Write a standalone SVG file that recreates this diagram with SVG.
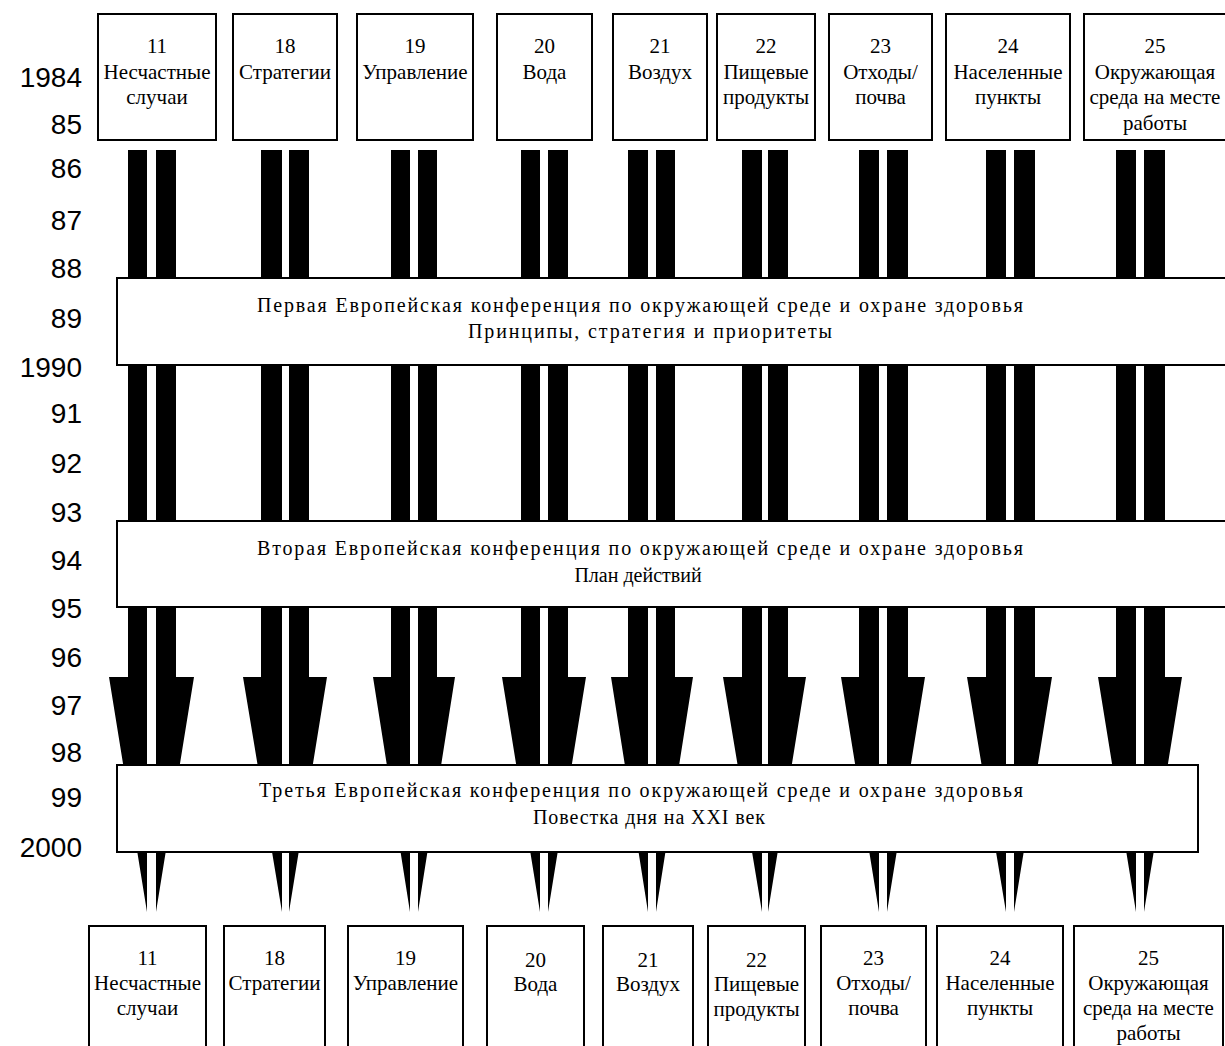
<svg xmlns="http://www.w3.org/2000/svg" width="1225" height="1046" viewBox="0 0 1225 1046">
<style>
.box{fill:#fff;stroke:#000;stroke-width:2}
.lbl{font-family:"Liberation Serif","Times New Roman",serif;font-size:21px;fill:#000;text-anchor:middle}
.conf{font-family:"Liberation Serif","Times New Roman",serif;font-size:20px;fill:#000}
.yr{font-family:"Liberation Sans",Arial,sans-serif;font-size:28px;fill:#000;text-anchor:end}
.arr{fill:#000}
</style>
<rect width="1225" height="1046" fill="#fff"/>
<g id="years">
<text class="yr" x="82" y="87">1984</text>
<text class="yr" x="82" y="134">85</text>
<text class="yr" x="82" y="178">86</text>
<text class="yr" x="82" y="230">87</text>
<text class="yr" x="82" y="278">88</text>
<text class="yr" x="82" y="328">89</text>
<text class="yr" x="82" y="377">1990</text>
<text class="yr" x="82" y="423">91</text>
<text class="yr" x="82" y="473">92</text>
<text class="yr" x="82" y="522">93</text>
<text class="yr" x="82" y="570">94</text>
<text class="yr" x="82" y="618">95</text>
<text class="yr" x="82" y="667">96</text>
<text class="yr" x="82" y="715">97</text>
<text class="yr" x="82" y="762">98</text>
<text class="yr" x="82" y="807">99</text>
<text class="yr" x="82" y="857">2000</text>
</g>
<g id="connectors">
<polygon class="arr" points="128,150 147,150 147,912 109,677 128,677"/>
<polygon class="arr" points="156,150 176,150 176,677 194,677 156,912"/>
<polygon class="arr" points="261,150 282,150 282,912 243,677 261,677"/>
<polygon class="arr" points="289,150 309,150 309,677 327,677 289,912"/>
<polygon class="arr" points="391,150 410,150 410,912 373,677 391,677"/>
<polygon class="arr" points="418,150 437,150 437,677 455,677 418,912"/>
<polygon class="arr" points="521,150 540,150 540,912 502,677 521,677"/>
<polygon class="arr" points="548,150 568,150 568,677 586,677 548,912"/>
<polygon class="arr" points="628,150 648,150 648,912 611,677 628,677"/>
<polygon class="arr" points="656,150 675,150 675,677 693,677 656,912"/>
<polygon class="arr" points="742,150 762,150 762,912 723,677 742,677"/>
<polygon class="arr" points="768,150 788,150 788,677 806,677 768,912"/>
<polygon class="arr" points="859,150 879,150 879,912 841,677 859,677"/>
<polygon class="arr" points="887,150 908,150 908,677 925,677 887,912"/>
<polygon class="arr" points="986,150 1006,150 1006,912 967,677 986,677"/>
<polygon class="arr" points="1014,150 1035,150 1035,677 1052,677 1014,912"/>
<polygon class="arr" points="1116,150 1136,150 1136,912 1098,677 1116,677"/>
<polygon class="arr" points="1144,150 1165,150 1165,677 1182,677 1144,912"/>
</g>
<g id="conf1">
<rect class="box" x="117" y="278" width="1110" height="87"/>
<text class="conf" x="257" y="312" textLength="766" lengthAdjust="spacing">Первая Европейская конференция по окружающей среде и охране здоровья</text>
<text class="conf" x="468" y="338" textLength="364" lengthAdjust="spacing">Принципы, стратегия и приоритеты</text>
</g>
<g id="conf2">
<rect class="box" x="117" y="521" width="1110" height="86"/>
<text class="conf" x="257" y="555" textLength="766" lengthAdjust="spacing">Вторая Европейская конференция по окружающей среде и охране здоровья</text>
<text class="conf" x="638" y="582" text-anchor="middle">План действий</text>
</g>
<g id="conf3">
<rect class="box" x="117" y="765" width="1081" height="87"/>
<text class="conf" x="259" y="797" textLength="764" lengthAdjust="spacing">Третья Европейская конференция по окружающей среде и охране здоровья</text>
<text class="conf" x="533" y="824" textLength="232" lengthAdjust="spacing">Повестка дня на XXI век</text>
</g>
<g id="top11"><rect class="box" x="98" y="14" width="118" height="126"/><text class="lbl" x="157" y="53">11</text><text class="lbl" x="157" y="79">Несчастные</text><text class="lbl" x="157" y="104">случаи</text></g>
<g id="top18"><rect class="box" x="233" y="14" width="104" height="126"/><text class="lbl" x="285" y="53">18</text><text class="lbl" x="285" y="79">Стратегии</text></g>
<g id="top19"><rect class="box" x="357" y="14" width="116" height="126"/><text class="lbl" x="415" y="53">19</text><text class="lbl" x="415" y="79">Управление</text></g>
<g id="top20"><rect class="box" x="497" y="14" width="95" height="126"/><text class="lbl" x="544.5" y="53">20</text><text class="lbl" x="544.5" y="79">Вода</text></g>
<g id="top21"><rect class="box" x="613" y="14" width="94" height="126"/><text class="lbl" x="660" y="53">21</text><text class="lbl" x="660" y="79">Воздух</text></g>
<g id="top22"><rect class="box" x="717" y="14" width="98" height="126"/><text class="lbl" x="766" y="53">22</text><text class="lbl" x="766" y="79">Пищевые</text><text class="lbl" x="766" y="104">продукты</text></g>
<g id="top23"><rect class="box" x="829" y="14" width="103" height="126"/><text class="lbl" x="880.5" y="53">23</text><text class="lbl" x="880.5" y="79">Отходы/</text><text class="lbl" x="880.5" y="104">почва</text></g>
<g id="top24"><rect class="box" x="946" y="14" width="124" height="126"/><text class="lbl" x="1008" y="53">24</text><text class="lbl" x="1008" y="79">Населенные</text><text class="lbl" x="1008" y="104">пункты</text></g>
<g id="top25"><rect class="box" x="1084" y="14" width="145" height="126"/><text class="lbl" x="1155" y="53">25</text><text class="lbl" x="1155" y="79">Окружающая</text><text class="lbl" x="1155" y="104">среда на месте</text><text class="lbl" x="1155" y="130">работы</text></g>
<g id="bot11"><rect class="box" x="89" y="926" width="117" height="130"/><text class="lbl" x="147.5" y="965">11</text><text class="lbl" x="147.5" y="990">Несчастные</text><text class="lbl" x="147.5" y="1015">случаи</text></g>
<g id="bot18"><rect class="box" x="224" y="926" width="101" height="130"/><text class="lbl" x="274.5" y="965">18</text><text class="lbl" x="274.5" y="990">Стратегии</text></g>
<g id="bot19"><rect class="box" x="348" y="926" width="115" height="130"/><text class="lbl" x="405.5" y="965">19</text><text class="lbl" x="405.5" y="990">Управление</text></g>
<g id="bot20"><rect class="box" x="487" y="926" width="97" height="130"/><text class="lbl" x="535.5" y="967">20</text><text class="lbl" x="535.5" y="991">Вода</text></g>
<g id="bot21"><rect class="box" x="603" y="926" width="90" height="130"/><text class="lbl" x="648" y="967">21</text><text class="lbl" x="648" y="991">Воздух</text></g>
<g id="bot22"><rect class="box" x="708" y="926" width="97" height="130"/><text class="lbl" x="756.5" y="967">22</text><text class="lbl" x="756.5" y="991">Пищевые</text><text class="lbl" x="756.5" y="1016">продукты</text></g>
<g id="bot23"><rect class="box" x="821" y="926" width="105" height="130"/><text class="lbl" x="873.5" y="965">23</text><text class="lbl" x="873.5" y="990">Отходы/</text><text class="lbl" x="873.5" y="1015">почва</text></g>
<g id="bot24"><rect class="box" x="937" y="926" width="126" height="130"/><text class="lbl" x="1000" y="965">24</text><text class="lbl" x="1000" y="990">Населенные</text><text class="lbl" x="1000" y="1015">пункты</text></g>
<g id="bot25"><rect class="box" x="1074" y="926" width="149" height="130"/><text class="lbl" x="1148.5" y="965">25</text><text class="lbl" x="1148.5" y="990">Окружающая</text><text class="lbl" x="1148.5" y="1015">среда на месте</text><text class="lbl" x="1148.5" y="1040">работы</text></g>
</svg>
